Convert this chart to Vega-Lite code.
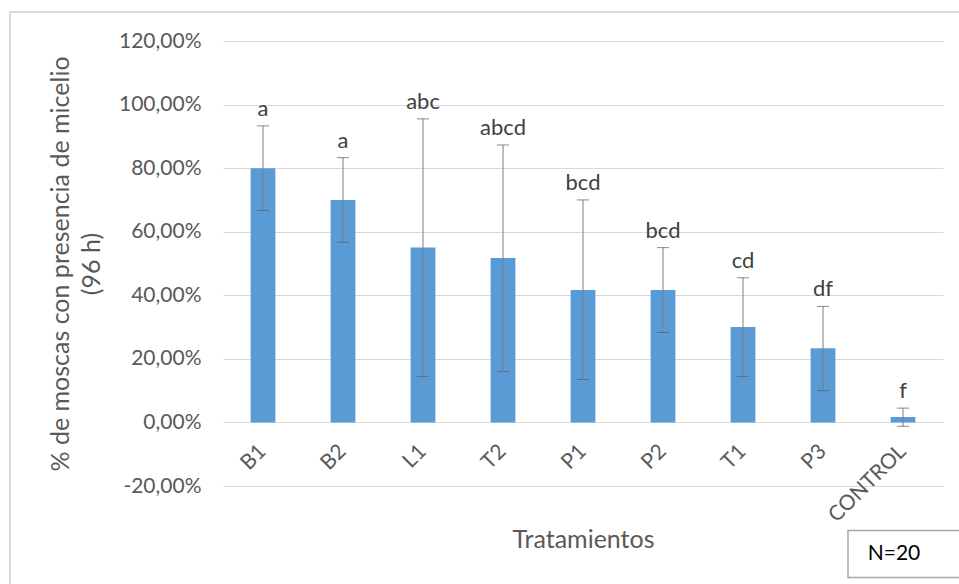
{
  "$schema": "https://vega.github.io/schema/vega-lite/v6.json",
  "width": 720,
  "height": 445,
  "autosize": {"type": "none"},
  "padding": {"left": 223, "top": 41, "right": 16, "bottom": 98},
  "background": "#ffffff",
  "config": {
    "font": "Lato",
    "view": {"stroke": null},
    "axis": {
      "labelFont": "Lato",
      "titleFont": "Lato",
      "labelColor": "#595959",
      "titleColor": "#595959",
      "labelFontSize": 21,
      "titleFontSize": 25,
      "titleFontWeight": "normal",
      "gridColor": "#d9d9d9",
      "gridWidth": 1,
      "domain": false,
      "ticks": false
    }
  },
  "datasets": {
    "tratamientos": [
      {"tratamiento": "B1", "media": 80.0, "inf": 66.7, "sup": 93.3, "letra": "a"},
      {"tratamiento": "B2", "media": 70.0, "inf": 56.7, "sup": 83.3, "letra": "a"},
      {"tratamiento": "L1", "media": 55.0, "inf": 14.5, "sup": 95.5, "letra": "abc"},
      {"tratamiento": "T2", "media": 51.7, "inf": 16.0, "sup": 87.3, "letra": "abcd"},
      {"tratamiento": "P1", "media": 41.7, "inf": 13.5, "sup": 70.0, "letra": "bcd"},
      {"tratamiento": "P2", "media": 41.7, "inf": 28.3, "sup": 55.0, "letra": "bcd"},
      {"tratamiento": "T1", "media": 30.0, "inf": 14.5, "sup": 45.5, "letra": "cd"},
      {"tratamiento": "P3", "media": 23.3, "inf": 10.0, "sup": 36.5, "letra": "df"},
      {"tratamiento": "CONTROL", "media": 1.7, "inf": -1.2, "sup": 4.5, "letra": "f"}
    ],
    "nota": [{"texto": "N=20"}]
  },
  "layer": [
    {
      "data": {"name": "nota"},
      "mark": {
        "type": "point",
        "shape": "M-5.06,-0.58H14.4V11.2H-5.06Z",
        "size": 10000,
        "filled": false,
        "stroke": "#d9d9d9",
        "strokeWidth": 2,
        "opacity": 1
      },
      "encoding": {
        "x": {"datum": "B1"},
        "y": {"datum": 120}
      }
    },
    {
      "data": {"name": "tratamientos"},
      "mark": {"type": "bar", "color": "#5b9bd5"},
      "encoding": {
        "x": {
          "field": "tratamiento",
          "type": "nominal",
          "scale": {
            "domain": ["B1", "B2", "L1", "T2", "P1", "P2", "T1", "P3", "CONTROL"],
            "paddingInner": 0.69,
            "paddingOuter": 0.345
          },
          "axis": {
            "title": "Tratamientos",
            "offset": -64,
            "labelAngle": -45,
            "labelAlign": "right",
            "labelBaseline": "middle",
            "labelPadding": 26,
            "titlePadding": 2,
            "grid": false
          }
        },
        "y": {
          "field": "media",
          "type": "quantitative",
          "scale": {"domain": [-20, 120], "nice": false, "zero": false},
          "axis": {
            "title": ["% de moscas con presencia de micelio", "(96 h)"],
            "titleLineHeight": 31,
            "titlePadding": 14,
            "values": [-20, 0, 20, 40, 60, 80, 100, 120],
            "labelExpr": "replace(replace(format(datum.value, '.2f'), '.', ','), '\u2212', '-') + '%'",
            "labelPadding": 22,
            "grid": true
          }
        }
      }
    },
    {
      "data": {"name": "tratamientos"},
      "mark": {"type": "rule", "color": "#7f7f7f", "strokeWidth": 1},
      "encoding": {
        "x": {"field": "tratamiento", "type": "nominal"},
        "y": {"field": "inf", "type": "quantitative"},
        "y2": {"field": "sup"}
      }
    },
    {
      "data": {"name": "tratamientos"},
      "mark": {"type": "tick", "color": "#595959", "thickness": 1, "size": 12},
      "encoding": {
        "x": {"field": "tratamiento", "type": "nominal"},
        "y": {"field": "inf", "type": "quantitative"}
      }
    },
    {
      "data": {"name": "tratamientos"},
      "mark": {"type": "tick", "color": "#595959", "thickness": 1, "size": 12},
      "encoding": {
        "x": {"field": "tratamiento", "type": "nominal"},
        "y": {"field": "sup", "type": "quantitative"}
      }
    },
    {
      "data": {"name": "tratamientos"},
      "mark": {"type": "text", "font": "Lato", "fontSize": 22, "color": "#404040", "baseline": "alphabetic", "dy": -10},
      "encoding": {
        "x": {"field": "tratamiento", "type": "nominal"},
        "y": {"field": "sup", "type": "quantitative"},
        "text": {"field": "letra"}
      }
    },
    {
      "data": {"name": "nota"},
      "mark": {
        "type": "point",
        "shape": "M-1.1,-0.47H1.4V0.47H-1.1Z",
        "size": 10000,
        "filled": false,
        "stroke": "#a6a6a6",
        "strokeWidth": 1.5,
        "opacity": 1
      },
      "encoding": {
        "x": {"datum": "CONTROL"},
        "y": {"datum": -41.4}
      }
    },
    {
      "data": {"name": "nota"},
      "mark": {"type": "text", "font": "Lato", "fontSize": 21, "color": "#000000", "dx": -9},
      "encoding": {
        "x": {"datum": "CONTROL"},
        "y": {"datum": -41.4},
        "text": {"field": "texto"}
      }
    }
  ]
}
